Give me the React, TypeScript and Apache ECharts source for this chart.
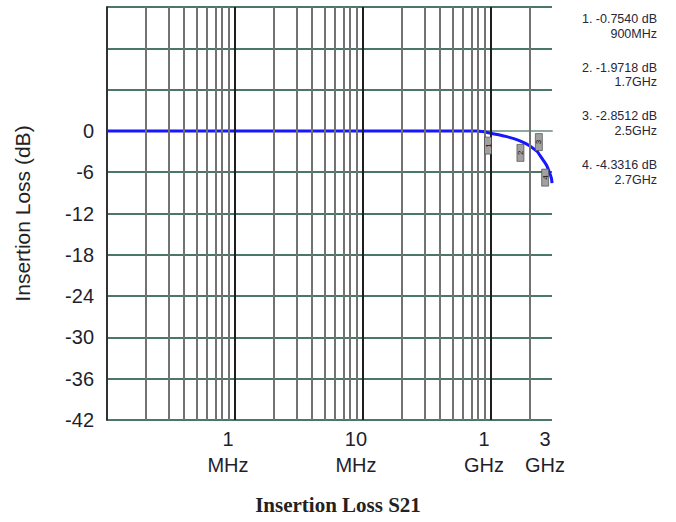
import React, { useEffect, useRef } from "react";
import * as echarts from "echarts";

// ---- data ----
const FREQ_HZ = [1e5, 1e6, 1e7, 1e8, 3e8, 5e8, 6e8, 7.2e8, 8.5e8, 9.8e8, 1.15e9, 1.33e9, 1.55e9, 1.79e9, 2.0e9, 2.14e9, 2.3e9, 2.41e9, 2.55e9, 2.72e9, 2.85e9, 2.97e9, 3.0e9];
const LOSS_DB = [0, 0, 0, 0, 0, 0, -0.03, -0.1, -0.2, -0.34, -0.55, -0.83, -1.2, -1.67, -2.15, -2.55, -3.0, -3.54, -4.2, -5.0, -5.9, -6.9, -7.6];

const X_TICK_FREQ_HZ = [1e6, 1e7, 1e9, 3e9];
const X_TICK_NUM = ["1", "10", "1", "3"];
const X_TICK_UNIT = ["MHz", "MHz", "GHz", "GHz"];

const Y_MIN = -42;
const Y_MAX = 18;
const Y_STEP = 6;

const MARKER_NAMES = ["1", "2", "3", "4"];
const MARKER_FREQ_HZ = [9e8, 1.7e9, 2.5e9, 2.7e9];
const MARKER_CURVE_DB = [-0.25, -1.45, -3.95, -4.9];
const MARKER_TEXT = ["1. -0.7540 dB", "2. -1.9718 dB", "3. -2.8512 dB", "4. -4.3316 dB"];
const MARKER_FREQ_TEXT = ["900MHz", "1.7GHz", "2.5GHz", "2.7GHz"];

// decades of the printed grid (the artwork squeezes 10 MHz .. 1 GHz into one decade)
const GRID_DECADE_START_HZ = [1e5, 1e6, 1e7];
const GRID_MULTIPLIERS = [2, 3, 4, 5, 6, 7, 8, 9];
const LAST_DECADE_LINES_HZ = [2e9];

// frequency -> printed-axis position (in decades)
function pos(f: number): number {
  const l = Math.log10(f);
  if (l <= 7) return l;
  if (l <= 9) return 7 + (l - 7) / 2;
  return l - 1;
}

const X_MIN = pos(1e5);
const X_MAX = pos(3e9);

const FONT = "Liberation Sans, Arial, sans-serif";

export default function App() {
  const ref = useRef<HTMLDivElement>(null);

  useEffect(() => {
    if (!ref.current) return;
    const chart = echarts.init(ref.current, null, { renderer: "svg" });

    const curve = FREQ_HZ.map((f, i) => [pos(f), LOSS_DB[i]]);

    const major = { color: "#1e1e1e", width: 2, type: "solid" };
    const minor = { color: "#727272", width: 2, type: "solid" };

    // vertical grid lines
    const vLines: any[] = [];
    GRID_DECADE_START_HZ.forEach((d, di) => {
      vLines.push({ xAxis: pos(d), lineStyle: di === 0 ? { color: "#333333", width: 2 } : major });
      GRID_MULTIPLIERS.forEach((m) => {
        // the squeezed decade is drawn like an ordinary printed decade
        const p = di === 2 ? pos(d) + Math.log10(m) : pos(d * m);
        vLines.push({ xAxis: p, lineStyle: minor });
      });
    });
    vLines.push({ xAxis: pos(1e9), lineStyle: major });
    LAST_DECADE_LINES_HZ.forEach((f) => vLines.push({ xAxis: pos(f), lineStyle: minor }));
    vLines.push({ xAxis: X_MAX, lineStyle: major });

    const markerOffsets = [
      [0, 13],
      [0, 12],
      [-3, -16],
      [-1, 13],
    ];

    const markPoints = MARKER_NAMES.map((n, i) => ({
      name: n,
      coord: [pos(MARKER_FREQ_HZ[i]), MARKER_CURVE_DB[i]],
      symbolOffset: markerOffsets[i],
    }));

    const graphics: any[] = [];
    MARKER_TEXT.forEach((t, i) => {
      const top = 19 + i * 48.7;
      graphics.push({
        type: "text",
        x: 657,
        y: top,
        style: {
          text: t,
          align: "right",
          verticalAlign: "middle",
          fontSize: 12.5,
          fontFamily: FONT,
          fill: "#262638",
        },
      });
      graphics.push({
        type: "text",
        x: 657,
        y: top + 14.5,
        style: {
          text: MARKER_FREQ_TEXT[i],
          align: "right",
          verticalAlign: "middle",
          fontSize: 12.5,
          fontFamily: FONT,
          fill: "#262638",
        },
      });
    });

    const tickPos = X_TICK_FREQ_HZ.map(pos);

    chart.setOption({
      animation: false,
      backgroundColor: "#ffffff",
      title: {
        text: "Insertion Loss S21",
        left: "center",
        top: 494,
        padding: 0,
        textStyle: {
          fontFamily: "Liberation Serif, Times New Roman, serif",
          fontWeight: "bold",
          fontSize: 21,
          color: "#222222",
        },
      },
      grid: { left: 107, right: 124, top: 7, bottom: 102, containLabel: false },
      xAxis: {
        type: "value",
        min: X_MIN,
        max: X_MAX,
        splitLine: { show: false },
        axisTick: { show: false },
        axisLine: { show: true, lineStyle: { color: "#8fa9a0", width: 2 } },
        axisLabel: {
          customValues: tickPos,
          showMinLabel: true,
          showMaxLabel: true,
          margin: 6,
          padding: [0, 14, 0, 0],
          formatter: (v: number) => {
            let idx = 0;
            let best = Infinity;
            tickPos.forEach((p, i) => {
              const d = Math.abs(p - v);
              if (d < best) {
                best = d;
                idx = i;
              }
            });
            return `{n|${X_TICK_NUM[idx]}}\n{u|${X_TICK_UNIT[idx]}}`;
          },
          rich: {
            n: { fontSize: 20, lineHeight: 26, color: "#1f1f2e", fontFamily: FONT },
            u: { fontSize: 20, lineHeight: 26, color: "#1f1f2e", fontFamily: FONT },
          },
        },
      },
      yAxis: {
        type: "value",
        min: Y_MIN,
        max: Y_MAX,
        interval: Y_STEP,
        name: "Insertion Loss (dB)",
        nameLocation: "middle",
        nameGap: 74,
        nameRotate: 90,
        nameTextStyle: {
          fontSize: 21,
          color: "#222222",
          fontFamily: FONT,
        },
        axisLine: { show: true, lineStyle: { color: "#333333", width: 2 } },
        axisTick: { show: false },
        axisLabel: {
          margin: 13,
          fontSize: 20,
          color: "#1f1f2e",
          fontFamily: FONT,
          formatter: (v: number) => (v > 0 ? "" : String(v)),
        },
        splitLine: { show: true, lineStyle: { color: "#4a7767", width: 2 } },
      },
      graphic: graphics,
      series: [
        {
          type: "line",
          data: [],
          silent: true,
          markLine: {
            silent: true,
            symbol: ["none", "none"],
            label: { show: false },
            data: vLines,
          },
        },
        {
          type: "line",
          data: curve,
          smooth: 0.25,
          showSymbol: false,
          lineStyle: { color: "#1717ff", width: 3 },
          markPoint: {
            symbol: "rect",
            symbolSize: [7, 17],
            itemStyle: { color: "#a0a0a0", borderColor: "#444444", borderWidth: 0.6 },
            label: {
              show: true,
              formatter: "{b}",
              position: "inside",
              rotate: 90,
              fontSize: 8,
              color: "#111111",
            },
            data: markPoints,
          },
        },
      ],
    });

    return () => chart.dispose();
  }, []);

  return (
    <div
      ref={ref}
      style={{ position: "fixed", left: 0, top: 0, width: 676, height: 522, background: "#fff" }}
    />
  );
}
